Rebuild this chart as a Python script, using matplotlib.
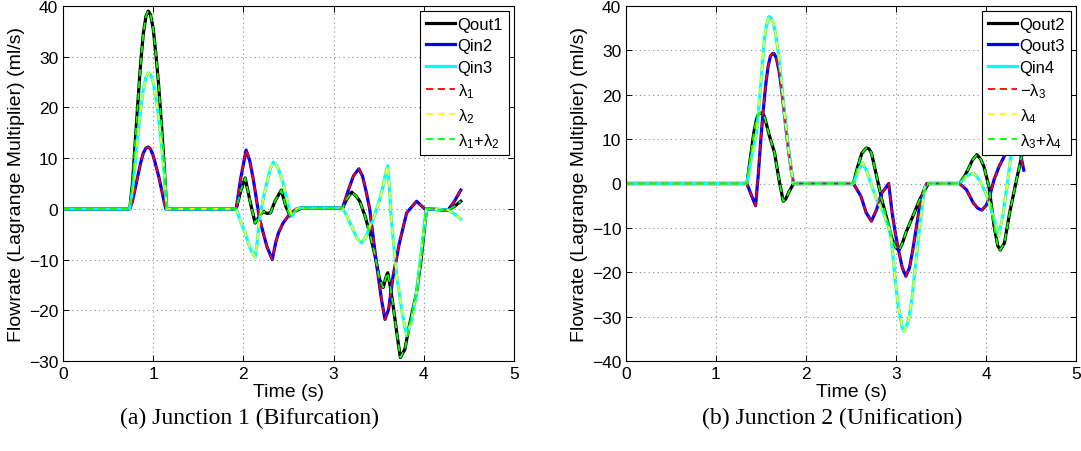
import numpy as np
import matplotlib
matplotlib.use("Agg")
from matplotlib import pyplot as plt

plt.rcParams['font.family'] = ['Liberation Sans', 'DejaVu Sans']
plt.rcParams['mathtext.fontset'] = 'custom'
plt.rcParams['mathtext.rm'] = 'Liberation Sans'
plt.rcParams['mathtext.it'] = 'Liberation Sans'

# ---------------- Junction 1 (Bifurcation) ----------------
t_qout1 = [0, 0.74, 0.77, 0.80, 0.83, 0.86, 0.89, 0.92, 0.945, 0.97, 1.0, 1.03, 1.06, 1.09, 1.12, 1.15,
           1.92, 1.97, 2.02, 2.07, 2.13, 2.18, 2.22, 2.26, 2.30, 2.35, 2.42, 2.47, 2.52, 2.57, 2.65,
           3.10, 3.15, 3.20, 3.25, 3.29, 3.35, 3.40, 3.46, 3.51, 3.55, 3.58, 3.60, 3.63, 3.66, 3.70,
           3.74, 3.79, 3.84, 3.92, 3.97, 4.03, 4.27, 4.34, 4.41]
v_qout1 = [0, 0, 5, 13, 21, 28.5, 34.5, 38, 39, 38.3, 35.5, 30.5, 24.5, 17, 9, 0,
           0, 3.5, 6.1, 1.8, -2.8, -1.4, -0.5, -0.9, -0.8, 1.5, 3.7, 0.5, -1.4, -0.5, 0.2,
           0.2, 2, 3.3, 2.5, 1.5, -1.5, -4.7, -9.3, -13.9, -15.5, -13.5, -12.6, -15.5, -19.1, -24.4,
           -29.3, -27.7, -23, -16.5, -10, 0, -0.3, 0.5, 1.5]

t_qin2 = [0, 0.74, 0.77, 0.80, 0.83, 0.86, 0.89, 0.92, 0.945, 0.97, 1.0, 1.03, 1.06, 1.09, 1.12, 1.14,
          1.92, 1.97, 2.03, 2.07, 2.11, 2.18, 2.26, 2.32, 2.36, 2.39, 2.44, 2.51, 2.59, 2.65,
          3.10, 3.16, 3.22, 3.28, 3.32, 3.36, 3.40, 3.47, 3.53, 3.57, 3.61, 3.66, 3.73, 3.81, 3.92,
          4.01, 4.27, 4.34, 4.41]
v_qin2 = [0, 0, 1.5, 4, 6.5, 9, 11, 12, 12.2, 11.8, 10.5, 8.5, 6.5, 4, 1.5, 0,
          0, 6, 11.6, 9.5, 5.8, -2.1, -7.4, -10, -6.5, -4.7, -2.8, -1.1, 0, 0.2,
          0.2, 3.5, 6.5, 7.9, 6.5, 3.5, 0, -10, -17.8, -21.8, -19.8, -13.2, -6.7, -0.8, 1.5,
          0, -0.2, 1.5, 3.7]

t_qin3 = [0, 0.74, 0.77, 0.80, 0.83, 0.86, 0.89, 0.92, 0.945, 0.97, 1.0, 1.03, 1.06, 1.09, 1.12, 1.15,
          1.92, 1.97, 2.02, 2.06, 2.09, 2.13, 2.15, 2.18, 2.22, 2.26, 2.30, 2.33, 2.36, 2.39, 2.44,
          2.51, 2.54, 2.59, 2.65,
          3.10, 3.15, 3.20, 3.26, 3.31, 3.36, 3.40, 3.44, 3.51, 3.55, 3.57, 3.60, 3.62, 3.64, 3.70,
          3.76, 3.81, 3.86, 3.92, 3.97, 4.03, 4.27, 4.34, 4.41]
v_qin3 = [0, 0, 3.5, 9, 14.5, 19.5, 23.5, 26, 26.8, 26.5, 25, 22, 18, 13, 7.5, 0,
          0, -2.5, -4.7, -7, -8.4, -9.5, -7, -2.1, 2, 5.1, 8, 9.2, 8.8, 7.8, 5.1,
          -0.1, -1.4, 0, 0.2,
          0.2, -1.5, -3.5, -5.8, -6.7, -5.5, -3.5, -2.1, 1.8, 4.5, 6.4, 8.5, 4, -2.1, -13.2,
          -20.5, -25, -22.4, -16.5, -8.7, 0, -0.2, -1, -2]

# ---------------- Junction 2 (Unification) ----------------
t_qout2 = [0, 1.344, 1.38, 1.42, 1.45, 1.478, 1.51, 1.536, 1.565, 1.594, 1.62, 1.651, 1.70, 1.747,
           1.775, 1.805, 1.862,
           2.527, 2.57, 2.62, 2.669, 2.70, 2.727, 2.784, 2.842, 2.90, 2.957, 3.0, 3.034, 3.07, 3.11,
           3.187, 3.264, 3.36,
           3.706, 3.76, 3.802, 3.85, 3.898, 3.94, 3.975, 4.032, 4.09, 4.13, 4.159, 4.205, 4.263,
           4.34, 4.397, 4.42]
v_qout2 = [0, 0, 5.5, 11.4, 14.5, 15.9, 15.8, 15.2, 13, 10.7, 9, 6.9, 0.9, -4,
           -3.5, -2.1, 0,
           0, 3.5, 6.8, 8.0, 7.8, 6.9, 1.7, -3.6, -8.1, -12.6, -14.5, -15, -13.5, -11.1,
           -7.4, -3.6, 0,
           0, 1.6, 3.2, 5.3, 6.5, 5.5, 3.9, -0.6, -9.6, -14, -15, -13.4, -6.6,
           0.9, 6.2, 7.5]

t_qout3 = [0, 1.344, 1.39, 1.44, 1.47, 1.498, 1.525, 1.555, 1.58, 1.605, 1.63, 1.644, 1.67, 1.70,
           1.73, 1.758, 1.785, 1.812, 1.84, 1.862,
           2.527, 2.57, 2.611, 2.669, 2.727, 2.784, 2.842, 2.885, 2.919, 2.957, 2.995, 3.034, 3.07,
           3.11, 3.15, 3.187, 3.225, 3.264, 3.30, 3.341,
           3.706, 3.783, 3.859, 3.91, 3.955, 4.0, 4.032, 4.09, 4.147, 4.205, 4.26, 4.32, 4.38, 4.42]
v_qout3 = [0, 0, -2.5, -5, 2, 9.9, 16.5, 22.7, 26.5, 28.7, 29.3, 29.3, 28.3, 25.5,
           21, 16, 11, 6.5, 2.5, 0,
           0, -1.5, -2.9, -6.6, -8.5, -5.9, -2.1, -1.0, 0, -6.6, -11.5, -15.6, -19,
           -20.9, -19, -14.9, -10, -5.1, -2, 0,
           0, -1.4, -4.4, -5.6, -6, -5, -3.6, 0.9, 3.9, 6.2, 8, 9, 7, 3]

t_qin4 = [0, 1.344, 1.396, 1.452, 1.47, 1.50, 1.537, 1.565, 1.589, 1.61, 1.637, 1.665, 1.692, 1.72,
          1.748, 1.776, 1.804, 1.83, 1.859,
          2.527, 2.58, 2.63, 2.67, 2.707, 2.784, 2.861, 2.938, 2.965, 2.995, 3.025, 3.053, 3.07,
          3.091, 3.12, 3.149, 3.18, 3.207, 3.235, 3.264, 3.295, 3.322, 3.36,
          3.706, 3.783, 3.859, 3.90, 3.936, 4.013, 4.09, 4.14, 4.186, 4.244, 4.282, 4.32, 4.37, 4.42]
v_qin4 = [0, 0, 6.2, 11.5, 15.5, 22.8, 32.5, 36, 37.6, 37.4, 36.2, 33.5, 29.5, 24.5,
          18.5, 13, 8, 4, 0,
          0, 3, 4.7, 3, 0.9, -3.6, -6.6, -11.1, -16, -22.4, -27.5, -30.7, -32.5,
          -33.3, -32, -29.9, -25.5, -20.2, -15, -9.6, -4.5, -0.6, 0,
          0, 1.7, 2.3, 1.5, 0.5, -2.9, -8.1, -11.9, -7.4, 0.9, 6.9, 10, 11, 10]

caption_left = "(a) Junction 1 (Bifurcation)"
caption_right = "(b) Junction 2 (Unification)"


def draw_panel(ax, curves, labels, ylim, yticks):
    solid_cols = ["k", (0, 0, 1), (0, 1, 1)]
    dash_cols = [(1, 0, 0), (1, 1, 0), (0, 1, 0)]
    handles = []
    for (t, v), c, lab in zip(curves, solid_cols, labels[:3]):
        h, = ax.plot(t, v, color=c, lw=2.3, label=lab, solid_joinstyle="round")
        handles.append(h)
    # dashed multipliers follow the same traces (blue->red, cyan->yellow, black->green)
    order = [1, 2, 0]
    for i, c, lab in zip(order, dash_cols, labels[3:]):
        t, v = curves[i]
        h, = ax.plot(t, v, color=c, lw=1.3, dashes=(4, 2.5), label=lab)
        handles.append(h)
    ax.set_xlim(0, 5)
    ax.set_ylim(*ylim)
    ax.set_yticks(yticks)
    ax.set_xticks(range(6))
    ax.grid(True, linestyle=(0, (1, 3)), color="0.55", lw=0.8)
    ax.tick_params(direction="in", top=True, right=True, length=4, labelsize=12.5, width=0.7)
    for s in ax.spines.values():
        s.set_linewidth(0.8)
    ax.set_xlabel("Time (s)", fontsize=14)
    ax.set_ylabel("Flowrate (Lagrange Multiplier) (ml/s)", fontsize=14)
    ax.xaxis.set_label_coords(0.5, -0.062)
    ax.yaxis.set_label_coords(-0.085, 0.5)
    leg = ax.legend(handles=handles, loc="upper right", fontsize=12, frameon=True,
                    fancybox=False, framealpha=1, edgecolor="k", handlelength=1.75,
                    handletextpad=0.15, labelspacing=0.38, borderaxespad=0.3,
                    borderpad=0.35)
    leg.get_frame().set_linewidth(0.8)
    leg.set_zorder(10)


fig = plt.figure(figsize=(10.81, 4.52), dpi=100)
ax1 = fig.add_axes([63 / 1081, 90 / 452, 451 / 1081, 355 / 452])
ax2 = fig.add_axes([626 / 1081, 90 / 452, 450 / 1081, 355 / 452])

draw_panel(ax1,
           [(t_qout1, v_qout1), (t_qin2, v_qin2), (t_qin3, v_qin3)],
           ["Qout1", "Qin2", "Qin3", "λ$_1$", "λ$_2$", "λ$_1$+λ$_2$"],
           (-30, 40), range(-30, 41, 10))
draw_panel(ax2,
           [(t_qout2, v_qout2), (t_qout3, v_qout3), (t_qin4, v_qin4)],
           ["Qout2", "Qout3", "Qin4", "−λ$_3$", "λ$_4$", "λ$_3$+λ$_4$"],
           (-40, 40), range(-40, 41, 10))

fig.text(250 / 1081, 1 - 418 / 452, caption_left, ha="center", va="center",
         fontsize=17, family="Liberation Serif")
fig.text(832 / 1081, 1 - 418 / 452, caption_right, ha="center", va="center",
         fontsize=17, family="Liberation Serif")

fig.savefig("out.png", dpi=100)
